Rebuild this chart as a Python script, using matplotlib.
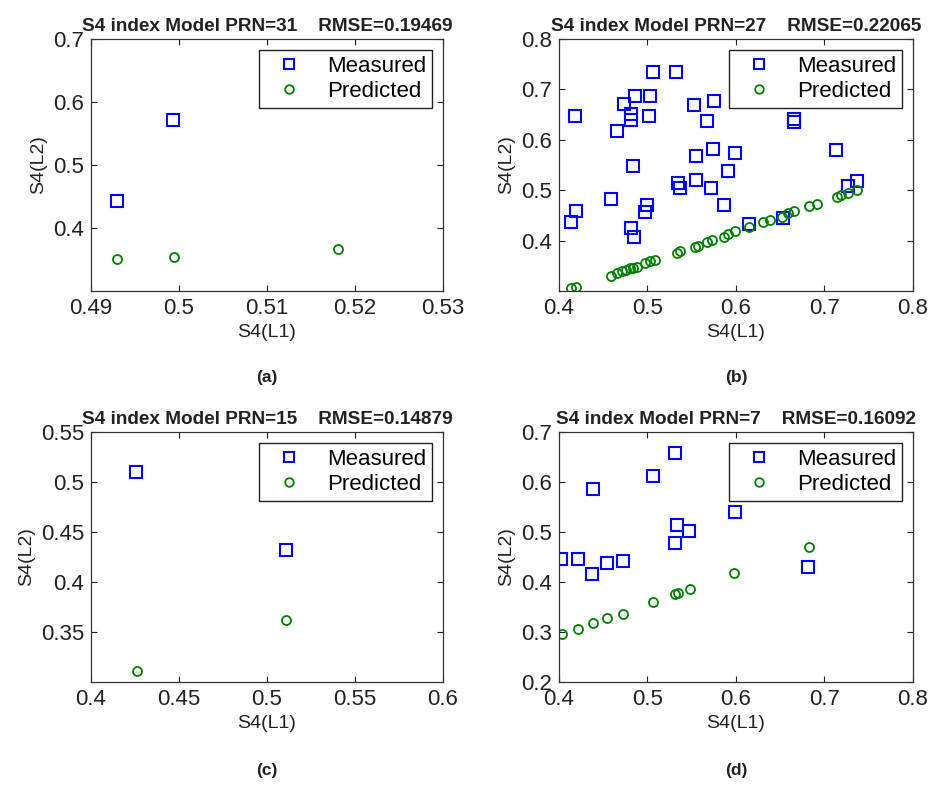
import matplotlib
matplotlib.use("Agg")
import matplotlib.pyplot as plt

plt.rcParams['font.family'] = ['Liberation Sans', 'DejaVu Sans']

# ---- PRN 31 ----
a_meas_x = [0.4930, 0.4993]
a_meas_y = [0.443, 0.571]
a_pred_x = [0.4930, 0.4994, 0.5181]
a_pred_y = [0.350, 0.354, 0.366]

# ---- PRN 27 ----
b_meas_x = [0.4177, 0.414, 0.419, 0.459, 0.466, 0.473, 0.481, 0.481, 0.486, 0.484,
            0.481, 0.485, 0.5015, 0.503, 0.506, 0.532, 0.497, 0.500, 0.534, 0.537,
            0.552, 0.555, 0.555, 0.567, 0.575, 0.574, 0.572, 0.586, 0.591, 0.599,
            0.615, 0.653, 0.665, 0.665, 0.713, 0.726, 0.737]
b_meas_y = [0.648, 0.437, 0.459, 0.483, 0.617, 0.672, 0.652, 0.640, 0.687, 0.548,
            0.425, 0.407, 0.648, 0.687, 0.734, 0.734, 0.456, 0.470, 0.515, 0.505,
            0.670, 0.568, 0.521, 0.637, 0.677, 0.581, 0.505, 0.471, 0.538, 0.573,
            0.432, 0.444, 0.642, 0.636, 0.579, 0.508, 0.518]
b_pred_x = [0.414, 0.419, 0.459, 0.465, 0.471, 0.476, 0.480, 0.484, 0.488, 0.497,
            0.503, 0.508, 0.533, 0.537, 0.554, 0.557, 0.567, 0.573, 0.586, 0.591,
            0.599, 0.615, 0.631, 0.638, 0.652, 0.659, 0.665, 0.682, 0.691, 0.714,
            0.719, 0.727, 0.737]
b_pred_y = [0.305, 0.307, 0.329, 0.335, 0.339, 0.341, 0.345, 0.346, 0.348, 0.356,
            0.359, 0.361, 0.376, 0.380, 0.387, 0.389, 0.397, 0.401, 0.408, 0.414,
            0.419, 0.427, 0.437, 0.441, 0.447, 0.455, 0.458, 0.468, 0.472, 0.487,
            0.490, 0.494, 0.500]

# ---- PRN 15 ----
c_meas_x = [0.4258, 0.5106]
c_meas_y = [0.510, 0.432]
c_pred_x = [0.4261, 0.5108]
c_pred_y = [0.311, 0.362]

# ---- PRN 7 ----
d_meas_x = [0.4026, 0.4215, 0.4377, 0.4385, 0.454, 0.472, 0.5057, 0.5306, 0.5306,
            0.5336, 0.547, 0.599, 0.6815]
d_meas_y = [0.446, 0.446, 0.416, 0.587, 0.438, 0.443, 0.613, 0.659, 0.478,
            0.514, 0.502, 0.540, 0.430]
d_pred_x = [0.4038, 0.4219, 0.4385, 0.4543, 0.4728, 0.5064, 0.5306, 0.534, 0.548,
            0.598, 0.683]
d_pred_y = [0.296, 0.307, 0.318, 0.328, 0.337, 0.360, 0.376, 0.379, 0.386,
            0.418, 0.470]

titles = ["S4 index Model PRN=31    RMSE=0.19469",
          "S4 index Model PRN=27    RMSE=0.22065",
          "S4 index Model PRN=15    RMSE=0.14879",
          "S4 index Model PRN=7    RMSE=0.16092"]
captions = ["(a)", "(b)", "(c)", "(d)"]

xlims = [(0.49, 0.53), (0.4, 0.8), (0.4, 0.6), (0.4, 0.8)]
ylims = [(0.3, 0.7), (0.3, 0.8), (0.3, 0.55), (0.2, 0.7)]
xticks = [[0.49, 0.50, 0.51, 0.52, 0.53], [0.4, 0.5, 0.6, 0.7, 0.8],
          [0.4, 0.45, 0.5, 0.55, 0.6], [0.4, 0.5, 0.6, 0.7, 0.8]]
yticks = [[0.4, 0.5, 0.6, 0.7], [0.4, 0.5, 0.6, 0.7, 0.8],
          [0.35, 0.4, 0.45, 0.5, 0.55], [0.2, 0.3, 0.4, 0.5, 0.6, 0.7]]
xticklabels = [["0.49", "0.5", "0.51", "0.52", "0.53"], ["0.4", "0.5", "0.6", "0.7", "0.8"],
               ["0.4", "0.45", "0.5", "0.55", "0.6"], ["0.4", "0.5", "0.6", "0.7", "0.8"]]
yticklabels = [["0.4", "0.5", "0.6", "0.7"], ["0.4", "0.5", "0.6", "0.7", "0.8"],
               ["0.35", "0.4", "0.45", "0.5", "0.55"], ["0.2", "0.3", "0.4", "0.5", "0.6", "0.7"]]

data = [(a_meas_x, a_meas_y, a_pred_x, a_pred_y),
        (b_meas_x, b_meas_y, b_pred_x, b_pred_y),
        (c_meas_x, c_meas_y, c_pred_x, c_pred_y),
        (d_meas_x, d_meas_y, d_pred_x, d_pred_y)]

W, H = 929, 787
fig = plt.figure(figsize=(W / 100, H / 100), dpi=100)

# axes boxes in pixels: left, top, right, bottom
boxes = [(91, 39, 443, 291), (559, 39, 913, 291),
         (91, 432, 443, 682), (559, 432, 913, 682)]

blue = (0, 0, 1)
green = (0, 0.5, 0)

for i, (l, t, r, b) in enumerate(boxes):
    ax = fig.add_axes([l / W, 1 - b / H, (r - l) / W, (b - t) / H])
    mx, my, px, py = data[i]
    ax.plot(mx, my, linestyle='none', marker='s', markersize=8,
            markerfacecolor='none', markeredgecolor=blue, markeredgewidth=1.5,
            label='Measured')
    ax.plot(px, py, linestyle='none', marker='o', markersize=6.5,
            markerfacecolor='none', markeredgecolor=green, markeredgewidth=1.3,
            label='Predicted')
    ax.set_xlim(*xlims[i])
    ax.set_ylim(*ylims[i])
    ax.set_xticks(xticks[i])
    ax.set_xticklabels(xticklabels[i])
    ax.set_yticks(yticks[i])
    ax.set_yticklabels(yticklabels[i])
    ax.tick_params(direction='in', top=True, right=True, length=4, width=0.8,
                   labelsize=16, pad=5, colors='#222222')
    for sp in ax.spines.values():
        sp.set_linewidth(0.9)
        sp.set_color('#333333')
    ax.set_title(titles[i], fontsize=13.7, fontweight='bold', pad=6, color='#222222')
    ax.set_xlabel("S4(L1)", fontsize=14, labelpad=4, color='#222222')
    ax.set_ylabel("S4(L2)", fontsize=14, labelpad=4, color='#222222')
    leg = ax.legend(loc='upper right', fontsize=16, frameon=True, fancybox=False,
                    edgecolor='#222222', framealpha=1, borderpad=0.25,
                    handlelength=2.2, handletextpad=0.6, labelspacing=0.2,
                    borderaxespad=0.5, markerscale=0.95)
    leg.get_frame().set_linewidth(1.0)
    cx = (l + r) / 2 / W
    cy = 1 - (378 if i < 2 else 770) / H
    fig.text(cx, cy, captions[i], ha='center', va='center', fontsize=12.5,
             fontweight='bold', color='#222222')

fig.savefig("out.png", dpi=100)
